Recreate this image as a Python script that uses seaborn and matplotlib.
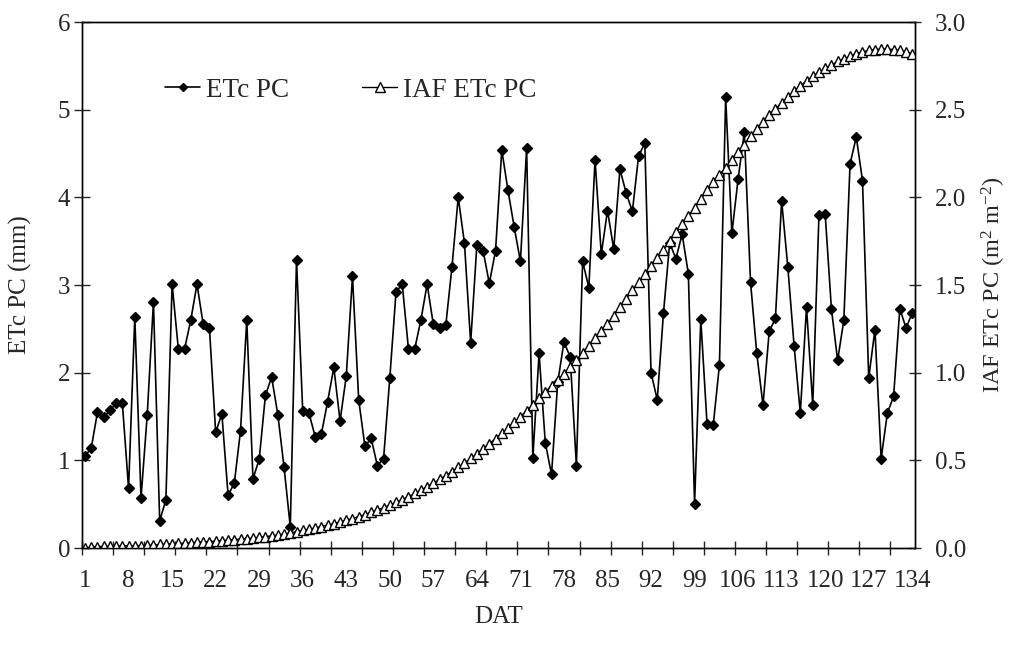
import numpy as np
import pandas as pd
import seaborn as sns
import matplotlib
matplotlib.use("Agg")
import matplotlib.pyplot as plt
from matplotlib.lines import Line2D

# ---------------- data ----------------
dat = list(range(1, 135))

etc_pc = [
    1.05, 1.14, 1.55, 1.49, 1.57, 1.65, 1.65, 0.68, 2.64, 0.57,
    1.52, 2.81, 0.31, 0.55, 3.01, 2.27, 2.27, 2.60, 3.01, 2.55,
    2.51, 1.32, 1.53, 0.60, 0.74, 1.34, 2.60, 0.79, 1.01, 1.74,
    1.95, 1.52, 0.92, 0.24, 3.29, 1.56, 1.54, 1.27, 1.30, 1.67,
    2.06, 1.45, 1.96, 3.10, 1.69, 1.16, 1.25, 0.94, 1.02, 1.94,
    2.92, 3.01, 2.27, 2.27, 2.60, 3.01, 2.55, 2.51, 2.54, 3.21,
    4.00, 3.48, 2.34, 3.46, 3.39, 3.02, 3.39, 4.54, 4.08, 3.66,
    3.27, 4.56, 1.03, 2.22, 1.20, 0.84, 1.89, 2.35, 2.18, 0.94,
    3.27, 2.97, 4.43, 3.35, 3.85, 3.41, 4.32, 4.05, 3.84, 4.47,
    4.62, 2.00, 1.69, 2.68, 3.48, 3.30, 3.58, 3.13, 0.50, 2.61,
    1.42, 1.40, 2.09, 5.14, 3.59, 4.21, 4.74, 3.03, 2.22, 1.63,
    2.47, 2.62, 3.96, 3.20, 2.31, 1.54, 2.75, 1.63, 3.80, 3.81,
    2.73, 2.14, 2.60, 4.38, 4.69, 4.19, 1.94, 2.49, 1.02, 1.54,
    1.73, 2.73, 2.51, 2.68,
]

iaf_etc_pc = [
    0.000, 0.005, 0.008, 0.010, 0.010, 0.011, 0.012, 0.012, 0.013, 0.014,
    0.015, 0.017, 0.020, 0.022, 0.024, 0.026, 0.028, 0.030, 0.032, 0.035,
    0.037, 0.039, 0.042, 0.045, 0.048, 0.051, 0.054, 0.057, 0.061, 0.065,
    0.069, 0.074, 0.080, 0.086, 0.093, 0.100, 0.107, 0.114, 0.122, 0.130,
    0.139, 0.148, 0.158, 0.168, 0.179, 0.191, 0.203, 0.216, 0.230, 0.245,
    0.260, 0.276, 0.293, 0.311, 0.330, 0.350, 0.370, 0.391, 0.413, 0.436,
    0.460, 0.485, 0.511, 0.538, 0.566, 0.595, 0.624, 0.654, 0.685, 0.717,
    0.750, 0.784, 0.818, 0.853, 0.889, 0.926, 0.960, 0.990, 1.030, 1.070,
    1.115, 1.155, 1.195, 1.240, 1.280, 1.325, 1.375, 1.420, 1.470, 1.515,
    1.560, 1.610, 1.655, 1.700, 1.750, 1.800, 1.850, 1.895, 1.940, 1.990,
    2.040, 2.085, 2.130, 2.170, 2.215, 2.260, 2.300, 2.350, 2.390, 2.430,
    2.470, 2.505, 2.540, 2.570, 2.605, 2.635, 2.665, 2.690, 2.715, 2.735,
    2.755, 2.775, 2.790, 2.805, 2.820, 2.830, 2.838, 2.843, 2.846, 2.846,
    2.843, 2.838, 2.830, 2.820,
]

x_tick_labels = list(range(1, 135, 7))
left_ticks = [0, 1, 2, 3, 4, 5, 6]
right_ticks = [0.0, 0.5, 1.0, 1.5, 2.0, 2.5, 3.0]

# ---------------- style ----------------
sns.set_style("ticks")
plt.rcParams["font.family"] = ["Liberation Serif", "DejaVu Serif"]
plt.rcParams["mathtext.fontset"] = "custom"
plt.rcParams["mathtext.rm"] = "Liberation Serif"
plt.rcParams["mathtext.it"] = "Liberation Serif"
plt.rcParams["axes.linewidth"] = 1.0
FS = 18

df = pd.DataFrame({"DAT": dat, "ETc PC": etc_pc, "IAF ETc PC": iaf_etc_pc})

fig = plt.figure(figsize=(10.09, 6.46), dpi=100)
ax = fig.add_axes([0.0812, 0.1517, 0.8260, 0.8142])
ax2 = ax.twinx()

sns.lineplot(data=df, x="DAT", y="ETc PC", ax=ax, color="black", lw=1.2,
             marker="D", markersize=5.0, markerfacecolor="black",
             markeredgecolor="black", markeredgewidth=1.0)
sns.lineplot(data=df, x="DAT", y="IAF ETc PC", ax=ax2, color="black", lw=1.0,
             marker="^", markersize=7, markerfacecolor="white",
             markeredgecolor="black", markeredgewidth=1.0)

ax.set_xlim(0.5, 134.5)
ax.set_ylim(0, 6)
ax2.set_ylim(0, 3)

# x ticks: labels at days, tick marks between categories every 5 days
ax.set_xticks(x_tick_labels)
ax.set_xticklabels([str(v) for v in x_tick_labels], fontsize=FS)
ax.tick_params(axis="x", which="major", length=0, pad=16)
ax.set_xticks(np.arange(0.5, 135, 5), minor=True)
ax.tick_params(axis="x", which="minor", direction="inout", length=10, width=1.0)

ax.set_yticks(left_ticks)
ax.set_yticklabels([str(v) for v in left_ticks], fontsize=FS)
ax.tick_params(axis="y", direction="inout", length=11, width=1.0, pad=3)

ax2.set_yticks(right_ticks)
ax2.set_yticklabels([f"{v:.1f}" for v in right_ticks], fontsize=FS)
ax2.tick_params(axis="y", direction="inout", length=8, width=1.0, pad=10)

for a in (ax, ax2):
    for s in a.spines.values():
        s.set_visible(True)
        s.set_color("black")
        s.set_linewidth(1.0)

ax.set_xlabel("DAT", fontsize=FS)
ax.xaxis.set_label_coords(0.5, -0.110)
ax.set_ylabel("ETc PC (mm)", fontsize=FS)
ax.yaxis.set_label_coords(-0.060, 0.5)
ax2.set_ylabel("IAF ETc PC (m$^{2}$ m$^{-2}$)", fontsize=17.5)
ax2.yaxis.set_label_coords(1.077, 0.5)

if ax.get_legend() is not None:
    ax.get_legend().remove()
if ax2.get_legend() is not None:
    ax2.get_legend().remove()

h1 = Line2D([], [], color="black", lw=1.2, marker="D", markersize=4.5,
            markerfacecolor="black", markeredgecolor="black")
h2 = Line2D([], [], color="black", lw=1.0, marker="^", markersize=6.5,
            markerfacecolor="white", markeredgecolor="black")
ax2.legend([h1, h2], ["ETc PC", "IAF ETc PC"], ncol=2, frameon=False,
           fontsize=19.5, loc="center left", bbox_to_anchor=(0.100, 0.870),
           handlelength=1.3, handletextpad=0.2, columnspacing=2.7,
           borderaxespad=0, borderpad=0)

fig.savefig("out.png", dpi=100)
